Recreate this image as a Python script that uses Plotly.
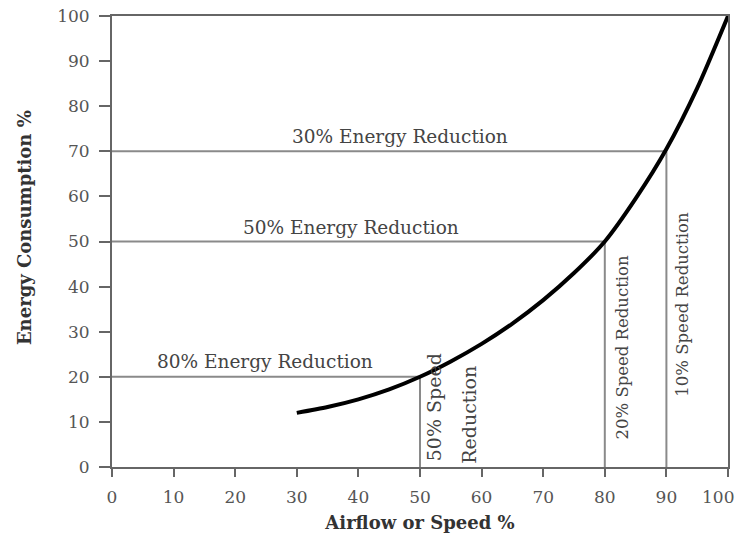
import plotly.graph_objects as go

# Curve
speed = [30, 35, 40, 45, 50, 55, 60, 65, 70, 75, 80, 85, 90, 95, 100]
energy = [12, 13.3, 15, 17.2, 20, 23.4, 27.3, 31.8, 37, 43, 50, 59.5, 70.5, 84, 100]

# Reference lines (speed, energy) points
ref_speed = [50, 80, 90]
ref_energy = [20, 50, 70]

x_ticks = [0, 10, 20, 30, 40, 50, 60, 70, 80, 90, 100]
x_tick_text = ["0", "10", "20", "30", "40", "50", "60", "70", "80", "90", ""]
last_x_label = "100"
y_ticks = [0, 10, 20, 30, 40, 50, 60, 70, 80, 90, 100]

h_labels = ["80% Energy Reduction", "50% Energy Reduction", "30% Energy Reduction"]
h_label_x = [24.8, 38.8, 46.8]
h_label_y = [23.3, 53.2, 73.2]

v_labels = ["50% Speed", "Reduction", "20% Speed Reduction", "10% Speed Reduction"]
v_label_x = [52.4, 57.9, 82.8, 92.7]
v_label_y = [13.2, 11.5, 26.5, 36.0]
v_label_size = [19, 19, 16.5, 16.5]

FONT = "DejaVu Serif"
GRAY = "#8a8a8a"
AX = "#666666"
TXT = "#444444"

fig = go.Figure()

for sx, ey in zip(ref_speed, ref_energy):
    fig.add_trace(go.Scatter(x=[0, sx], y=[ey, ey], mode="lines",
                             line=dict(color=GRAY, width=2), hoverinfo="skip"))
    fig.add_trace(go.Scatter(x=[sx, sx], y=[0, ey], mode="lines",
                             line=dict(color=GRAY, width=2), hoverinfo="skip"))

fig.add_trace(go.Scatter(x=speed, y=energy, mode="lines", cliponaxis=False,
                         line=dict(color="black", width=4, shape="spline", smoothing=0.7)))

for t, x, y in zip(h_labels, h_label_x, h_label_y):
    fig.add_annotation(x=x, y=y, text=t, showarrow=False,
                       font=dict(family=FONT, size=18.5, color=TXT))
for t, x, y, s in zip(v_labels, v_label_x, v_label_y, v_label_size):
    fig.add_annotation(x=x, y=y, text=t, showarrow=False, textangle=-90,
                       font=dict(family=FONT, size=s, color=TXT))

# last x tick label, kept inside the page
fig.add_annotation(x=x_ticks[-1], xref="x", y=0, yref="paper", yshift=-30, xshift=8,
                   text=last_x_label, showarrow=False, yanchor="middle", xanchor="right",
                   font=dict(family=FONT, size=17, color="#555555"))

# y-axis title
fig.add_annotation(x=-0.141, xref="paper", y=0.53, yref="paper",
                   text="<b>Energy Consumption %</b>", showarrow=False, textangle=-90,
                   xanchor="center", yanchor="middle",
                   font=dict(family=FONT, size=18, color="#333333"))

axis_common = dict(range=[0, 100], showgrid=False, zeroline=False,
                   showline=True, linecolor=AX, linewidth=2, mirror=True,
                   ticks="outside", tickcolor=AX, tickwidth=2,
                   tickfont=dict(family=FONT, size=17, color="#555555"))

fig.update_xaxes(**axis_common, tickvals=x_ticks, ticktext=x_tick_text, ticklen=8,
                 ticklabelstandoff=6,
                 title=dict(text="<b>Airflow or Speed %</b>", standoff=10,
                            font=dict(family=FONT, size=18, color="#333333")))
fig.update_yaxes(**axis_common, tickvals=y_ticks, ticklen=11, ticklabelstandoff=6)

fig.update_layout(width=737, height=545, showlegend=False,
                  plot_bgcolor="white", paper_bgcolor="white",
                  margin=dict(l=112, r=9, t=16, b=78, autoexpand=False))

fig.write_html("out.html", config={"displayModeBar": False},
               post_script="document.body.style.margin='0';")
